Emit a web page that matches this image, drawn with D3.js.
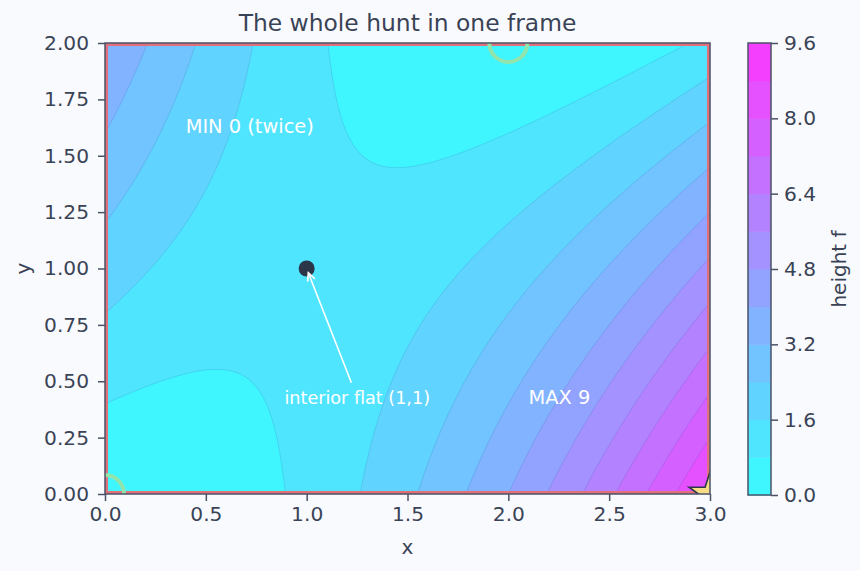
<!DOCTYPE html>
<html><head><meta charset="utf-8">
<script src="https://cdn.jsdelivr.net/npm/d3@7"></script>
<style>
body{margin:0;background:#f9fafd;}
svg{display:block;font-family:"DejaVu Sans",sans-serif;}
</style>
</head><body>
<svg id="chart" width="860" height="571"></svg>
<script>
// ---- data ----
const xDomain = [0, 3];
const yDomain = [0, 2];
const levels = [0, 0.8, 1.6, 2.4, 3.2, 4.0, 4.8, 5.6, 6.4, 7.2, 8.0, 8.8, 9.6];
const xTicks = [0, 0.5, 1.0, 1.5, 2.0, 2.5, 3.0];
const yTicks = [0, 0.25, 0.5, 0.75, 1.0, 1.25, 1.5, 1.75, 2.0];
const cbTicks = [0, 1.6, 3.2, 4.8, 6.4, 8.0, 9.6];
const minima = [[0, 0], [2, 2]];
const maxima = [[3, 0]];
const flatPoints = [[1, 1]];
const textLabels = [
  {text: "MIN 0 (twice)", x: 0.4, y: 1.6},
  {text: "MAX 9", x: 2.1, y: 0.4}
];
const annotation = {text: "interior flat (1,1)", x: 0.89, y: 0.4, target: [1, 1]};
// the surface being hunted: f(x,y) = x^2 - 2xy + 2y on [0,3] x [0,2]
function height(x, y) { return x * x - 2 * x * y + 2 * y; }

// ---- layout ----
const W = 860, H = 571;
const M = {left: 105, right: 710, top: 43, bottom: 494};
const CB = {x0: 748, x1: 771, top: 43, bottom: 495};
const textColor = "#3a4356";
const spineColor = "#4a5367";
const svg = d3.select("#chart");
svg.append("rect").attr("width", W).attr("height", H).attr("fill", "#f9fafd");

const xS = d3.scaleLinear().domain(xDomain).range([M.left, M.right]);
const yS = d3.scaleLinear().domain(yDomain).range([M.bottom, M.top]);

function cool(t) { return d3.rgb(255 * t, 255 * (1 - t), 255); }
const nBands = levels.length - 1;
const bandColor = k => cool((k + 0.5) / nBands);
const ALPHA = 0.78;
const bg = d3.rgb("#f9fafd");
function blended(k) {
  const c = bandColor(k);
  return d3.rgb(c.r * ALPHA + bg.r * (1 - ALPHA), c.g * ALPHA + bg.g * (1 - ALPHA), c.b * ALPHA + bg.b * (1 - ALPHA));
}

const defs = svg.append("defs");
defs.append("clipPath").attr("id", "plotclip").append("rect")
  .attr("x", M.left).attr("y", M.top).attr("width", M.right - M.left).attr("height", M.bottom - M.top);

// grid
const step = 0.01;
const nx = Math.round((xDomain[1] - xDomain[0]) / step) + 1;
const ny = Math.round((yDomain[1] - yDomain[0]) / step) + 1;
const values = new Float64Array(nx * ny);
for (let j = 0; j < ny; j++) for (let i = 0; i < nx; i++)
  values[j * nx + i] = height(xDomain[0] + i * step, yDomain[0] + j * step);

const proj = d3.geoTransform({
  point(x, y) { this.stream.point(xS(xDomain[0] + (x - 0.5) * step), yS(yDomain[0] + (y - 0.5) * step)); }
});
const path = d3.geoPath(proj);
const contours = d3.contours().size([nx, ny]).thresholds(levels.slice(0, nBands))(values);

const plot = svg.append("g").attr("clip-path", "url(#plotclip)");
plot.append("rect").attr("x", M.left).attr("y", M.top).attr("width", M.right - M.left).attr("height", M.bottom - M.top)
  .attr("fill", blended(0));
plot.selectAll("path.band").data(contours).join("path").attr("class", "band")
  .attr("d", path).attr("fill", (d, i) => blended(i));
plot.selectAll("path.cline").data(contours.slice(1)).join("path").attr("class", "cline")
  .attr("d", path).attr("fill", "none").attr("stroke", "rgba(40,60,150,0.25)").attr("stroke-width", 0.6);

// domain boundary in red
plot.append("rect").attr("x", xS(xDomain[0])).attr("y", yS(yDomain[1]))
  .attr("width", xS(xDomain[1]) - xS(xDomain[0])).attr("height", yS(yDomain[0]) - yS(yDomain[1]))
  .attr("fill", "none").attr("stroke", "#e2707a").attr("stroke-width", 6);

// minima rings
plot.selectAll("circle.min").data(minima).join("circle").attr("class", "min")
  .attr("cx", d => xS(d[0])).attr("cy", d => yS(d[1])).attr("r", 19)
  .attr("fill", "none").attr("stroke", "#92e4ab").attr("stroke-width", 4);
// maximum star
plot.selectAll("path.max").data(maxima).join("path").attr("class", "max")
  .attr("transform", d => `translate(${xS(d[0])},${yS(d[1])})`)
  .attr("d", d3.symbol(d3.symbolStar, 22 * 22 / 0.8908130915292852)())
  .attr("fill", "#f6dc84").attr("stroke", "#2b3648").attr("stroke-width", 1.6);
// interior critical point
plot.selectAll("circle.flat").data(flatPoints).join("circle").attr("class", "flat")
  .attr("cx", d => xS(d[0])).attr("cy", d => yS(d[1])).attr("r", 8).attr("fill", "#2b3648");

// text labels
svg.selectAll("text.lab").data(textLabels).join("text").attr("class", "lab")
  .attr("x", d => xS(d.x)).attr("y", d => yS(d.y)).attr("fill", "#ffffff")
  .attr("font-size", 19.4).text(d => d.text);
const at = svg.append("text").attr("x", xS(annotation.x)).attr("y", yS(annotation.y))
  .attr("fill", "#ffffff").attr("font-size", 17.6).text(annotation.text);
const bb = at.node().getBBox();
const cx = bb.x + bb.width / 2, cy = bb.y + bb.height / 2;
const tx = xS(annotation.target[0]), ty = yS(annotation.target[1]);
const dxL = tx - cx, dyL = ty - cy, L = Math.hypot(dxL, dyL);
const ux = dxL / L, uy = dyL / L;
const topY = bb.y - 5;
const tt = (topY - cy) / dyL;
const sx = cx + dxL * tt, sy = topY;
const ex = tx - ux * 4.5, ey = ty - uy * 4.5;
const ha = 0.45, hl = 9;
function rot(vx, vy, a) { return [vx * Math.cos(a) - vy * Math.sin(a), vx * Math.sin(a) + vy * Math.cos(a)]; }
const h1 = rot(-ux, -uy, ha), h2 = rot(-ux, -uy, -ha);
svg.append("path")
  .attr("d", `M${sx},${sy}L${ex},${ey}M${ex + h1[0] * hl},${ey + h1[1] * hl}L${ex},${ey}L${ex + h2[0] * hl},${ey + h2[1] * hl}`)
  .attr("fill", "none").attr("stroke", "#ffffff").attr("stroke-width", 1.6);

// axes
const fmt2 = d3.format(".2f"), fmt1 = d3.format(".1f");
const gx = svg.append("g").attr("transform", `translate(0,${M.bottom})`)
  .call(d3.axisBottom(xS).tickValues(xTicks).tickFormat(fmt1).tickSize(7).tickPadding(6));
const gy = svg.append("g").attr("transform", `translate(${M.left},0)`)
  .call(d3.axisLeft(yS).tickValues(yTicks).tickFormat(fmt2).tickSize(7).tickPadding(9));
[gx, gy].forEach(g => {
  g.select(".domain").remove();
  g.selectAll("line").attr("stroke", spineColor).attr("stroke-width", 1.5);
  g.selectAll("text").attr("fill", textColor).attr("font-size", 20.2).attr("font-family", "DejaVu Sans");
});
svg.append("rect").attr("x", M.left).attr("y", M.top).attr("width", M.right - M.left).attr("height", M.bottom - M.top)
  .attr("fill", "none").attr("stroke", spineColor).attr("stroke-width", 1.5);

// colorbar
const cS = d3.scaleLinear().domain([levels[0], levels[levels.length - 1]]).range([CB.bottom, CB.top]);
svg.selectAll("rect.cb").data(d3.range(nBands)).join("rect").attr("class", "cb")
  .attr("x", CB.x0).attr("width", CB.x1 - CB.x0)
  .attr("y", k => cS(levels[k + 1])).attr("height", k => cS(levels[k]) - cS(levels[k + 1]) + 0.5)
  .attr("fill", k => blended(k));
svg.append("rect").attr("x", CB.x0).attr("y", CB.top).attr("width", CB.x1 - CB.x0).attr("height", CB.bottom - CB.top)
  .attr("fill", "none").attr("stroke", spineColor).attr("stroke-width", 1.5);
const gc = svg.append("g").attr("transform", `translate(${CB.x1},0)`)
  .call(d3.axisRight(cS).tickValues(cbTicks).tickFormat(fmt1).tickSize(7).tickPadding(6));
gc.select(".domain").remove();
gc.selectAll("line").attr("stroke", spineColor).attr("stroke-width", 1.5);
gc.selectAll("text").attr("fill", textColor).attr("font-size", 20.2).attr("font-family", "DejaVu Sans");

// titles
svg.append("text").attr("x", (M.left + M.right) / 2).attr("y", 31).attr("text-anchor", "middle")
  .attr("fill", textColor).attr("font-size", 23.4).text("The whole hunt in one frame");
svg.append("text").attr("x", (M.left + M.right) / 2).attr("y", 554).attr("text-anchor", "middle")
  .attr("fill", textColor).attr("font-size", 20).text("x");
svg.append("text").attr("transform", `translate(30,${(M.top + M.bottom) / 2}) rotate(-90)`).attr("text-anchor", "middle")
  .attr("fill", textColor).attr("font-size", 20).text("y");
svg.append("text").attr("transform", `translate(846,${(CB.top + CB.bottom) / 2}) rotate(-90)`).attr("text-anchor", "middle")
  .attr("fill", textColor).attr("font-size", 20).text("height f");
</script>
</body></html>
